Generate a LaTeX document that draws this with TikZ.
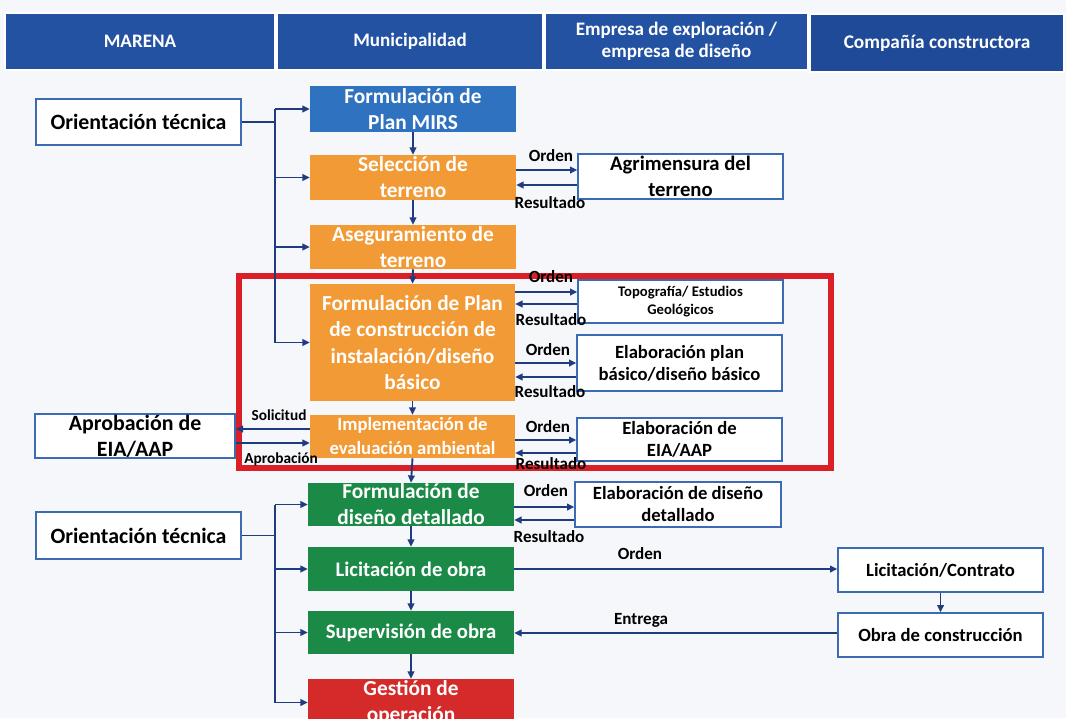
\documentclass[tikz,border=0pt]{standalone}
\usepackage{fontspec}
\setmainfont{Carlito}
\usetikzlibrary{arrows.meta,calc}

\definecolor{hdrblue}{HTML}{2352A3}
\definecolor{hdrdark}{HTML}{1E4A98}
\definecolor{mirsblue}{HTML}{2F72C0}
\definecolor{stepor}{HTML}{F29A36}
\definecolor{stepgr}{HTML}{1B8A47}
\definecolor{stepred}{HTML}{D52A2A}
\definecolor{framered}{HTML}{DA1F27}
\definecolor{navy}{HTML}{203C80}
\definecolor{boxedge}{HTML}{3B6CB3}
\definecolor{paper}{HTML}{F5F7FA}

\begin{document}
\begin{tikzpicture}[x=0.75pt,y=-0.75pt,
  % a box given by its left, top, right and bottom edges
  span/.style n args={4}{at={({(#1+#3)/2},{(#2+#4)/2})}, anchor=center,
    minimum width={(#3-#1)*0.75pt}, minimum height={(#4-#2)*0.75pt}},
  hdr/.style={fill=hdrblue, draw=white, line width=0.8pt, inner sep=0pt, text=white,
    align=center, font=\bfseries\fontsize{14.3}{16.5}\selectfont},
  proc/.style={inner sep=0pt, text=white, align=center,
    font=\bfseries\fontsize{16}{19.5}\selectfont},
  orangebox/.style={proc, fill=stepor},
  greenbox/.style={proc, fill=stepgr},
  wbox/.style={draw=boxedge, line width=1pt, fill=white, inner sep=0pt, align=center,
    font=\bfseries\fontsize{14}{16.5}\selectfont},
  bigtext/.style={font=\bfseries\fontsize{16.4}{19.5}\selectfont},
  frame/.style={draw=framered, line width=4.2pt, inner sep=0pt},
  wire/.style={draw=navy, line width=1.4pt},
  arr/.style={wire, -{Triangle[length=5.5pt,width=5pt]}},
  lbl/.style={inner sep=0pt, text=black, font=\bfseries\fontsize{12.8}{14}\selectfont},
  slbl/.style={inner sep=0pt, text=black, font=\bfseries\fontsize{11.5}{13}\selectfont},
]
\path[use as bounding box] (0,0) rectangle (1066,718);
\clip (0,0) rectangle (1066,718);
\fill[paper] (0,0) rectangle (1066,718);

% lane headers
\node[hdr, span={5}{13}{275}{70}] (h1) {MARENA};
\node[hdr, span={277}{13}{543}{70}] (h2) {Municipalidad};
\node[hdr, span={545}{13}{808}{70}] (h3) {Empresa de exploración /\\empresa de diseño};
\node[hdr, fill=hdrdark, font=\bfseries\fontsize{14.5}{16.5}\selectfont, span={810}{14}{1064}{72}] (h4) {Compañía constructora};

% highlighted design stage
\node[frame, span={239}{276}{831}{468}] (zone) {};

% MARENA
\node[wbox, bigtext, span={36}{99}{241}{145}] (ot1) {Orientación técnica};
\node[wbox, bigtext, span={35}{414}{235}{458}] (aprob) {Aprobación de\\EIA/AAP};
\node[wbox, bigtext, span={36}{512}{241}{559}] (ot2) {Orientación técnica};

% Municipalidad
\node[proc, fill=mirsblue, span={310}{86}{516}{132}] (mirs) {Formulación de\\Plan MIRS};
\node[orangebox, span={310}{155}{516}{200}] (sel) {Selección de\\terreno};
\node[orangebox, span={310}{225}{516}{269}] (aseg) {Aseguramiento de\\terreno};
\node[orangebox, span={310}{284}{515}{401}, font=\bfseries\fontsize{16}{19.7}\selectfont] (fplan) {Formulación de Plan\\de construcción de\\instalación/diseño\\básico};
\node[orangebox, span={310}{415}{515}{458}, font=\bfseries\fontsize{14}{18}\selectfont] (impl) {Implementación de\\evaluación ambiental};
\node[greenbox, span={308}{483}{514}{526}] (fdet) {Formulación de\\diseño detallado};
\node[greenbox, span={308}{547}{514}{591}, font=\bfseries\fontsize{15.5}{19}\selectfont] (lic) {Licitación de obra};
\node[greenbox, span={308}{611}{514}{654}, font=\bfseries\fontsize{15.5}{19}\selectfont] (sup) {Supervisión de obra};
\node[proc, fill=stepred, span={308}{679}{514}{726}] (gest) {Gestión de\\operación};

% Empresa de exploracion / diseno
\node[wbox, font=\bfseries\fontsize{15.5}{19.5}\selectfont, span={578}{154}{783}{199}] (agr) {Agrimensura del\\terreno};
\node[wbox, font=\bfseries\fontsize{11}{13.7}\selectfont, span={578}{280}{783}{323}] (topo) {Topografía/ Estudios\\Geológicos};
\node[wbox, span={577}{335}{782}{391}] (pbas) {Elaboración plan\\básico/diseño básico};
\node[wbox, span={577}{418}{782}{461}] (eia) {Elaboración de\\EIA/AAP};
\node[wbox, span={575}{482}{781}{527}] (ddet) {Elaboración de diseño\\detallado};

% Compania constructora
\node[wbox, span={838}{548}{1043}{592}] (lcon) {Licitación/Contrato};
\node[wbox, span={838}{613}{1043}{657}] (obra) {Obra de construcción};

% main sequence
\draw[arr] (mirs.south) -- (sel.north);
\draw[arr] (sel.south) -- (aseg.north);
\draw[arr] (aseg.south) -- (fplan.north);
\draw[arr] (fplan.south) -- (impl.north);
\draw[arr] (impl.south) -- (fdet.north);
\draw[arr] (fdet.south) -- (lic.north);
\draw[arr] (lic.south) -- (sup.north);
\draw[arr] (sup.south) -- (gest.north);
\draw[arr] (lcon.south) -- (obra.north);

% technical guidance buses
\coordinate (busA) at (275,0);
\draw[wire] (ot1.east) -- (ot1.east -| busA);
\draw[wire] (mirs.west -| busA) -- (fplan.west -| busA);
\foreach \n in {mirs,sel,aseg,fplan} \draw[arr] (\n.west -| busA) -- (\n.west);
\coordinate (busB) at (275,0);
\draw[wire] (ot2.east) -- (ot2.east -| busB);
\draw[wire] (fdet.west -| busB) -- (gest.west -| busB);
\foreach \n in {fdet,lic,sup,gest} \draw[arr] (\n.west -| busB) -- (\n.west);

% order / result exchanges
\coordinate (y1o) at (0,170); \coordinate (y1r) at (0,185);
\coordinate (y2o) at (0,292); \coordinate (y2r) at (0,304);
\coordinate (y3o) at (0,363); \coordinate (y3r) at (0,377);
\coordinate (y4o) at (0,440); \coordinate (y4r) at (0,453);
\coordinate (y5o) at (0,507); \coordinate (y5r) at (0,520);
\draw[arr] (sel.east |- y1o) -- (agr.west |- y1o);
\draw[arr] (agr.west |- y1r) -- (sel.east |- y1r);
\draw[arr] (fplan.east |- y2o) -- (topo.west |- y2o);
\draw[arr] (topo.west |- y2r) -- (fplan.east |- y2r);
\draw[arr] (fplan.east |- y3o) -- (pbas.west |- y3o);
\draw[arr] (pbas.west |- y3r) -- (fplan.east |- y3r);
\draw[arr] (impl.east |- y4o) -- (eia.west |- y4o);
\draw[arr] (eia.west |- y4r) -- (impl.east |- y4r);
\draw[arr] (fdet.east |- y5o) -- (ddet.west |- y5o);
\draw[arr] (ddet.west |- y5r) -- (fdet.east |- y5r);

\coordinate (y6) at (0,569); \coordinate (y7) at (0,633);
\draw[arr] (lic.east |- y6) -- (lcon.west |- y6);
\draw[arr] (obra.west |- y7) -- (sup.east |- y7);

% environmental approval
\coordinate (ya) at (0,429); \coordinate (yb) at (0,443);
\draw[arr] (impl.west |- ya) -- (aprob.east |- ya);
\draw[arr] (aprob.east |- yb) -- (impl.west |- yb);

% labels
\node[lbl] (l1o) at (551,156) {Orden};
\node[lbl] (l1r) at (550,203) {Resultado};
\node[lbl] (l2o) at (551,277) {Orden};
\node[lbl] (l2r) at (551,320) {Resultado};
\node[lbl] (l3o) at (548,350) {Orden};
\node[lbl] (l3r) at (550,392) {Resultado};
\node[lbl] (l4o) at (548,427) {Orden};
\node[lbl] (l4r) at (551,464) {Resultado};
\node[lbl] (l5o) at (546,491) {Orden};
\node[lbl] (l5r) at (549,537) {Resultado};
\node[lbl] (l6) at (640,554) {Orden};
\node[lbl] (l7) at (641,620) {Entrega};
\node[slbl] (la) at (279,415) {Solicitud};
\node[slbl] (lb) at (281,459) {Aprobación};
\end{tikzpicture}
\end{document}
